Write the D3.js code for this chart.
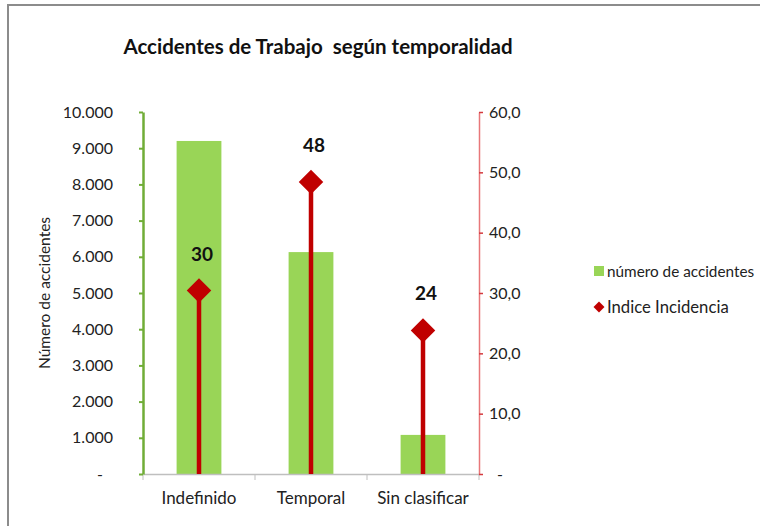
<!DOCTYPE html>
<html>
<head>
<meta charset="utf-8">
<script src="https://cdn.jsdelivr.net/npm/d3@7"></script>
<style>
  body { margin: 0; background: #fff; }
  text { font-family: Lato, "Open Sans", sans-serif; fill: #222; }
</style>
</head>
<body>
<svg id="chart"></svg>
<script>
// Data
const categories = ["Indefinido", "Temporal", "Sin clasificar"];
const accidentes = [9200, 6130, 1080];
const incidencia = [30.4, 48.4, 23.8];
const incidenciaLabels = ["30", "48", "24"];
const leftTicks = [0, 1000, 2000, 3000, 4000, 5000, 6000, 7000, 8000, 9000, 10000];
const rightTicks = [0, 10, 20, 30, 40, 50, 60];

const svgWidth = 760, svgHeight = 526;
const plot = { left: 143, right: 479, top: 112, bottom: 474 };

const svg = d3.select("#chart")
    .attr("width", svgWidth)
    .attr("height", svgHeight);

// frame of the chart area (cropped on right and bottom)
svg.append("path")
    .attr("d", `M8,${svgHeight} L8,5 L${svgWidth},5`)
    .attr("fill", "none")
    .attr("stroke", "#8c8c8c")
    .attr("stroke-width", 2);

// title
svg.append("text")
    .attr("x", 318)
    .attr("y", 54)
    .attr("text-anchor", "middle")
    .style("font-size", "20.5px")
    .style("font-weight", "bold")
    .style("fill", "#111")
    .attr("xml:space", "preserve")
    .text("Accidentes de Trabajo  según temporalidad");

const locale = d3.formatLocale({ decimal: ",", thousands: ".", grouping: [3], currency: ["", ""] });
const fmtLeft = locale.format(",.0f");
const fmtRight = locale.format(",.1f");

// scales
const x = d3.scaleBand()
    .domain(categories)
    .range([plot.left, plot.right])
    .paddingInner(0.6)
    .paddingOuter(0.3);

const yL = d3.scaleLinear().domain([0, 10000]).range([plot.bottom, plot.top]);
const yR = d3.scaleLinear().domain([0, 60]).range([plot.bottom, plot.top]);

// bars
svg.append("g")
    .selectAll("rect")
    .data(accidentes)
    .join("rect")
    .attr("x", (d, i) => x(categories[i]))
    .attr("y", d => yL(d))
    .attr("width", x.bandwidth())
    .attr("height", d => yL(0) - yL(d))
    .attr("fill", "#99d557");

// x baseline and category separators
const xAxis = svg.append("g")
    .attr("transform", `translate(0, ${plot.bottom})`)
    .call(d3.axisBottom(x).tickSize(0).tickPadding(18));
xAxis.select(".domain").attr("stroke", "#bfbfbf").attr("stroke-width", 1.5);
xAxis.selectAll("text")
    .style("font-size", "17px")
    .style("font-family", "Lato, sans-serif")
    .attr("fill", "#222");
xAxis.selectAll(".sep")
    .data(d3.range(categories.length + 1))
    .join("line")
    .attr("class", "sep")
    .attr("x1", i => plot.left + i * x.step())
    .attr("x2", i => plot.left + i * x.step())
    .attr("y1", 0)
    .attr("y2", 6)
    .attr("stroke", "#bfbfbf");

// left axis
const leftAxis = svg.append("g")
    .attr("transform", `translate(${plot.left}, 0)`)
    .call(d3.axisLeft(yL).tickValues(leftTicks).tickSize(4).tickSizeOuter(0).tickPadding(26)
        .tickFormat(d => d === 0 ? "-" : fmtLeft(d)));
leftAxis.select(".domain").attr("stroke", "#70ad37").attr("stroke-width", 2.5);
leftAxis.selectAll(".tick line").attr("stroke", "#70ad37").attr("stroke-width", 2);
leftAxis.selectAll("text")
    .style("font-size", "16px")
    .style("font-family", "Lato, sans-serif")
    .attr("fill", "#222")
    .attr("dx", d => d === 0 ? -10 : 0);

// right axis
const rightAxis = svg.append("g")
    .attr("transform", `translate(${plot.right}, 0)`)
    .call(d3.axisRight(yR).tickValues(rightTicks).tickSize(4).tickSizeOuter(0).tickPadding(6)
        .tickFormat(d => d === 0 ? "-" : fmtRight(d)));
rightAxis.select(".domain").attr("stroke", "#e8777a").attr("stroke-width", 1.5);
rightAxis.selectAll(".tick line").attr("stroke", "#d43a3f").attr("stroke-width", 1.5);
rightAxis.selectAll("text")
    .style("font-size", "16px")
    .style("font-family", "Lato, sans-serif")
    .attr("fill", "#222")
    .attr("dx", d => d === 0 ? 8 : 0);

// left axis title
svg.append("text")
    .attr("transform", `translate(50, ${(plot.top + plot.bottom) / 2}) rotate(-90)`)
    .attr("text-anchor", "middle")
    .style("font-size", "15.5px")
    .text("Número de accidentes");

// incidence index: stems + diamonds
const cx = i => x(categories[i]) + x.bandwidth() / 2;
const incG = svg.append("g");
incG.selectAll("line")
    .data(incidencia)
    .join("line")
    .attr("x1", (d, i) => cx(i))
    .attr("x2", (d, i) => cx(i))
    .attr("y1", d => yR(d))
    .attr("y2", yR(0))
    .attr("stroke", "#c00000")
    .attr("stroke-width", 4.5);

const diamond = d3.symbol().type(d3.symbolSquare).size(300);
incG.selectAll("path")
    .data(incidencia)
    .join("path")
    .attr("d", diamond)
    .attr("transform", (d, i) => `translate(${cx(i)}, ${yR(d)}) rotate(45)`)
    .attr("fill", "#c00000");

incG.selectAll("text")
    .data(incidencia)
    .join("text")
    .attr("x", (d, i) => cx(i) + 3)
    .attr("y", d => yR(d) - 30)
    .attr("text-anchor", "middle")
    .style("font-size", "19px")
    .style("font-weight", "bold")
    .style("fill", "#111")
    .text((d, i) => incidenciaLabels[i]);

// legend
const legend = svg.append("g").attr("transform", "translate(594, 0)");
legend.append("rect")
    .attr("x", 0).attr("y", 266)
    .attr("width", 10).attr("height", 10)
    .attr("fill", "#99d557");
legend.append("text")
    .attr("x", 13).attr("y", 277)
    .style("font-size", "15.3px")
    .text("número de accidentes");
legend.append("path")
    .attr("d", d3.symbol().type(d3.symbolSquare).size(60))
    .attr("transform", "translate(5, 307) rotate(45)")
    .attr("fill", "#c00000");
legend.append("text")
    .attr("x", 13).attr("y", 313)
    .style("font-size", "16.7px")
    .text("Indice Incidencia");
</script>
</body>
</html>
